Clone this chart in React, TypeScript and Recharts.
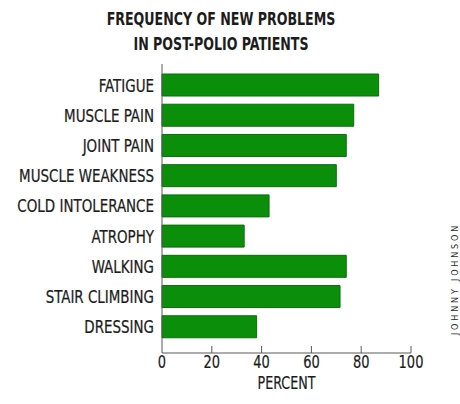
import React from 'react';
import { BarChart, Bar, XAxis, YAxis, Label } from 'recharts';

// Share of post-polio patients reporting each new problem
const problems = [
  'FATIGUE',
  'MUSCLE PAIN',
  'JOINT PAIN',
  'MUSCLE WEAKNESS',
  'COLD INTOLERANCE',
  'ATROPHY',
  'WALKING',
  'STAIR CLIMBING',
  'DRESSING',
];
const percents = [87, 77, 74, 70, 43, 33, 74, 71.5, 38];
const percentTicks = [0, 20, 40, 60, 80, 100];
const titleLines = ['FREQUENCY OF NEW PROBLEMS', 'IN POST-POLIO PATIENTS'];
const credit = 'JOHNNY JOHNSON';

const data = problems.map((name, i) => ({ name, value: percents[i] }));

const FONT = "'DejaVu Sans Condensed', 'DejaVu Sans', sans-serif";
const TEXT = '#1c1c1c';
const AXIS = '#5a5a5a';
const GREEN = '#0b8f0b';
// horizontal squeeze applied to text to get a narrow, condensed face
const SQUEEZE = 0.83;

// Category label on the left axis, right-aligned against the axis
const ProblemTick = (props: any) => {
  const { x, y, payload } = props;
  return (
    <text
      transform={`translate(${x},${y}) scale(${SQUEEZE},1)`}
      textAnchor="end"
      dy="0.36em"
      fontFamily={FONT}
      fontSize={18}
      fill={TEXT}
      stroke={TEXT}
      strokeWidth={0.25}
    >
      {payload.value}
    </text>
  );
};

// Bottom axis tick: short inward mark plus the number beneath the axis
const PercentTick = (props: any) => {
  const { x, y, payload } = props;
  return (
    <g>
      {payload.value !== 0 && (
        <line x1={x} x2={x} y1={y - 7} y2={y} stroke={AXIS} strokeWidth={1} />
      )}
      <text
        transform={`translate(${x},${y + 15}) scale(0.85,1)`}
        textAnchor="middle"
        fontFamily={FONT}
        fontSize={17}
        fill={TEXT}
        stroke={TEXT}
        strokeWidth={0.2}
      >
        {payload.value}
      </text>
    </g>
  );
};

const PercentLabel = (props: any) => {
  const vb = props.viewBox || {};
  const cx = (vb.x || 0) + (vb.width || 0) / 2;
  const by = (vb.y || 0) + (vb.height || 0) - 4;
  return (
    <text
      transform={`translate(${cx},${by}) scale(${SQUEEZE},1)`}
      textAnchor="middle"
      fontFamily={FONT}
      fontSize={17}
      fill={TEXT}
      stroke={TEXT}
      strokeWidth={0.2}
    >
      PERCENT
    </text>
  );
};

export default function App() {
  return (
    <div style={{ position: 'absolute', left: 0, top: 0, width: 460, height: 404, background: '#fff' }}>
      <BarChart
        width={460}
        height={404}
        data={data}
        layout="vertical"
        margin={{ top: 64, right: 49, bottom: 11, left: 0 }}
      >
        <XAxis
          type="number"
          domain={[0, 100]}
          ticks={percentTicks}
          interval={0}
          height={40}
          tickSize={0}
          tickMargin={0}
          tickLine={false}
          axisLine={{ stroke: AXIS, strokeWidth: 1 }}
          tick={<PercentTick />}
        >
          <Label position="insideBottom" content={<PercentLabel />} />
        </XAxis>
        <YAxis
          type="category"
          dataKey="name"
          width={162}
          tickLine={false}
          tickSize={8}
          tickMargin={0}
          interval={0}
          padding={{ top: 6, bottom: 11 }}
          axisLine={{ stroke: AXIS, strokeWidth: 1 }}
          tick={<ProblemTick />}
        />
        <Bar
          dataKey="value"
          fill={GREEN}
          stroke="#0a6d0a"
          strokeWidth={1}
          barSize={22}
          isAnimationActive={false}
        />
      </BarChart>
      <svg
        width={460}
        height={404}
        style={{ position: 'absolute', left: 0, top: 0, pointerEvents: 'none' }}
      >
        {titleLines.map((line, i) => (
          <text
            key={line}
            transform={`translate(221,${25 + i * 25}) scale(0.78,1)`}
            textAnchor="middle"
            fontFamily={FONT}
            fontWeight="bold"
            fontSize={18}
            fill={TEXT}
          >
            {line}
          </text>
        ))}
        <text
          x={0}
          y={0}
          transform="translate(458 279) rotate(-90)"
          textAnchor="middle"
          fontFamily={FONT}
          fontSize={9}
          fill="#2a2a2a"
          letterSpacing={2.8}
        >
          {credit}
        </text>
      </svg>
    </div>
  );
}
